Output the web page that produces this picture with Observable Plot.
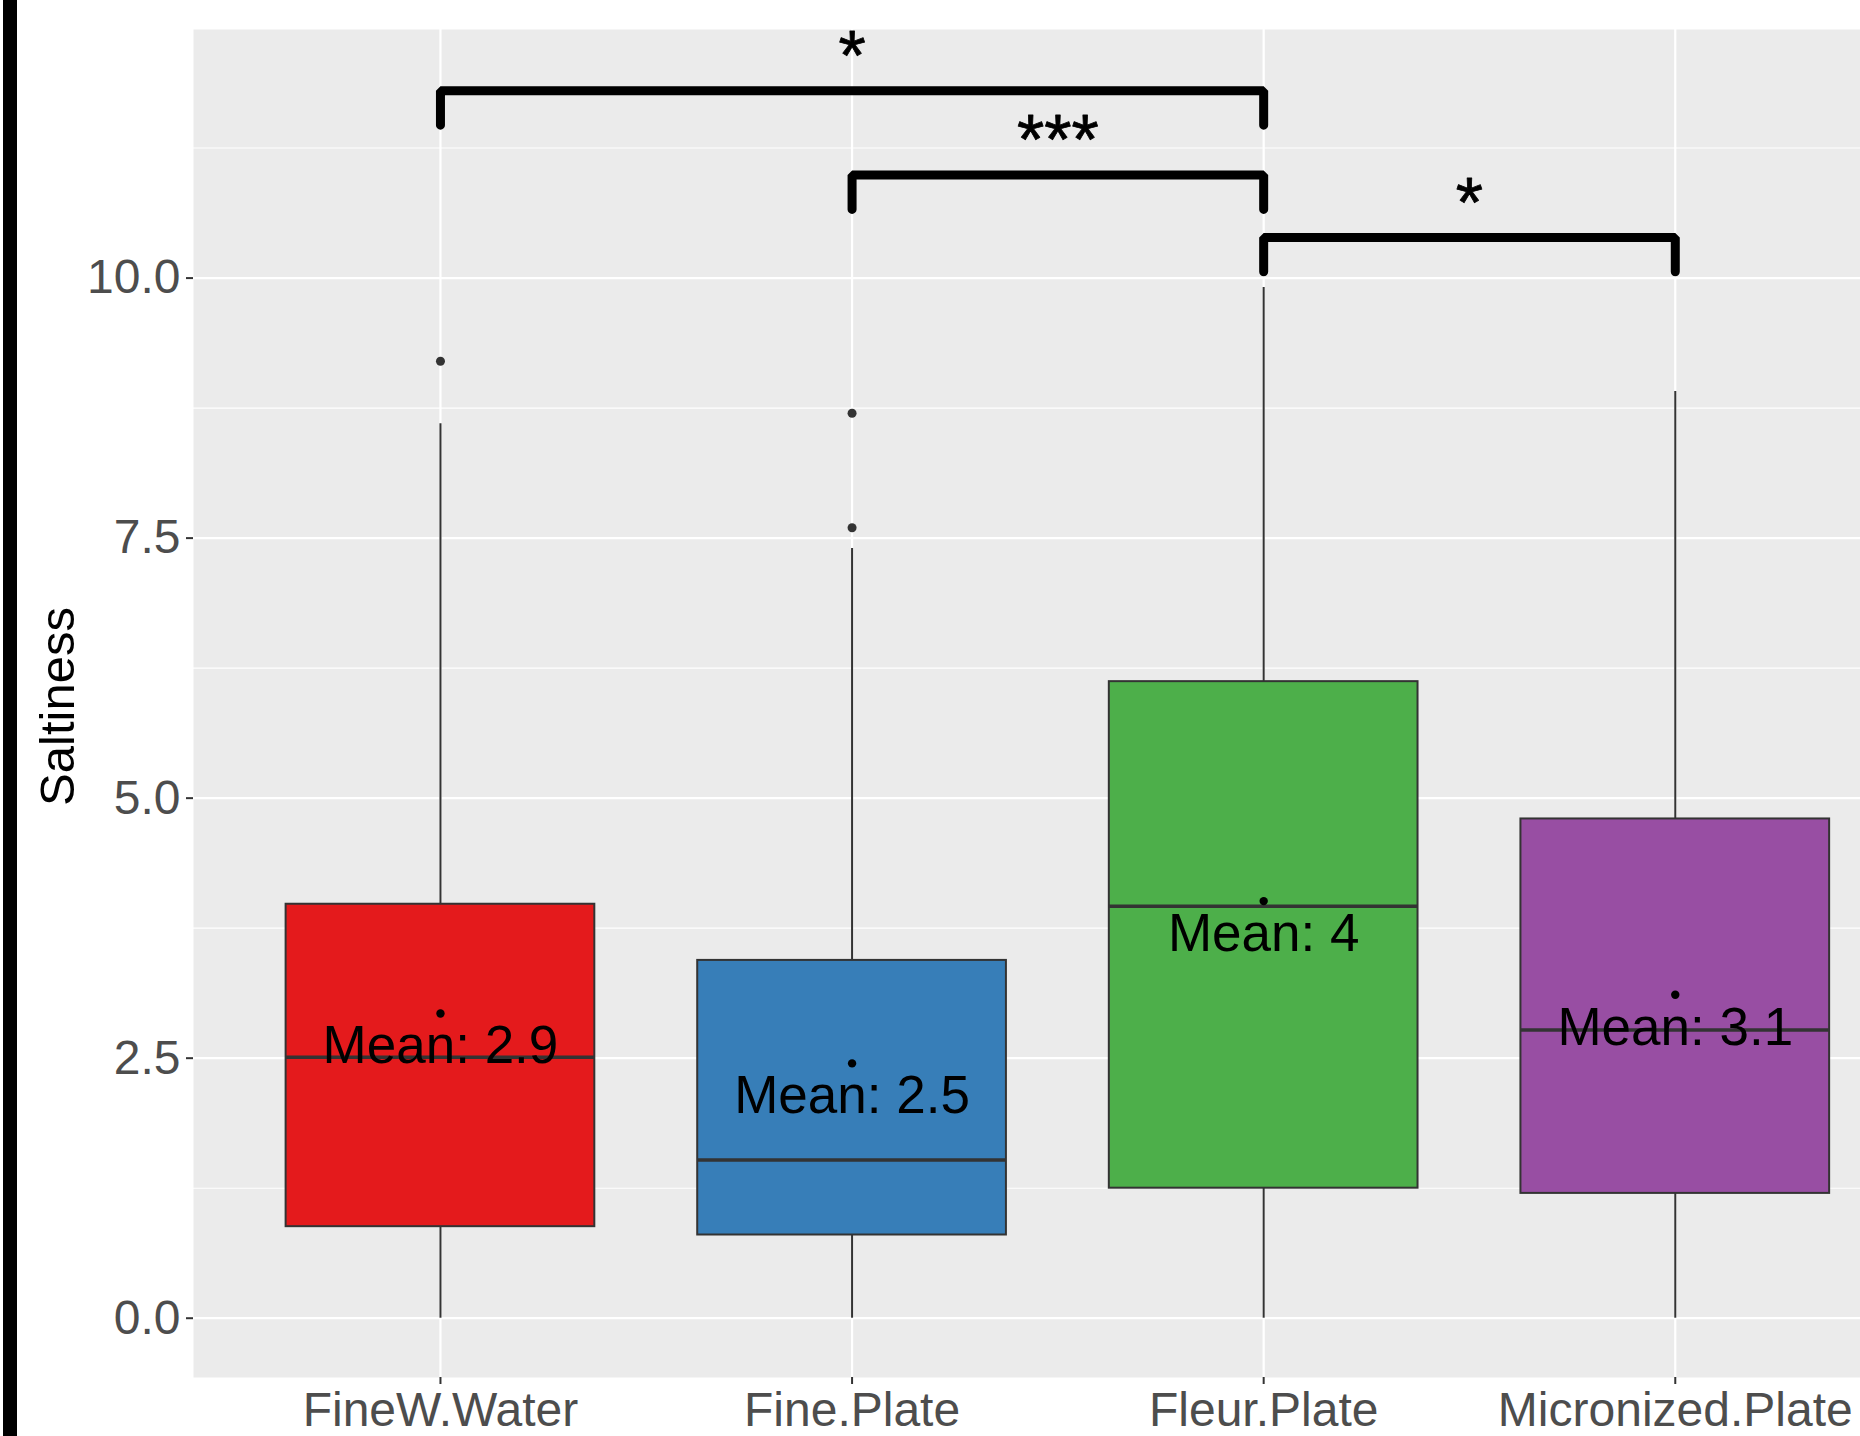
<!DOCTYPE html>
<html>
<head>
<meta charset="utf-8">
<script src="https://cdn.jsdelivr.net/npm/d3@7"></script>
<script src="https://cdn.jsdelivr.net/npm/@observablehq/plot@0.6"></script>
<style>
  html, body { margin: 0; padding: 0; background: #ffffff; }
  #wrap { position: relative; width: 1860px; height: 1436px; overflow: hidden; }
  #edge { position: absolute; left: 3px; top: 0; width: 14px; height: 1436px; background: #000; }
  #chart { position: absolute; left: 0; top: 0; }
</style>
</head>
<body>
<div id="wrap"><div id="chart"></div><div id="edge"></div></div>
<script>
// ---- data ----
const groups = ["FineW.Water", "Fine.Plate", "Fleur.Plate", "Micronized.Plate"];
const groupColors = ["#E41A1C", "#377EB8", "#4DAF4A", "#984EA3"];
const whiskerLow = [0, 0, 0, 0];
const quartile1 = [0.88, 0.80, 1.25, 1.20];
const medians = [2.51, 1.52, 3.96, 2.77];
const quartile3 = [3.98, 3.44, 6.12, 4.80];
const whiskerHigh = [8.60, 7.40, 9.91, 8.91];
const means = [2.93, 2.45, 4.01, 3.11];
const meanLabels = ["2.9", "2.5", "4", "3.1"];
const outlierGroups = ["FineW.Water", "Fine.Plate", "Fine.Plate"];
const outlierValues = [9.20, 8.70, 7.60];
const compFrom = ["FineW.Water", "Fine.Plate", "Fleur.Plate"];
const compTo = ["Fleur.Plate", "Fleur.Plate", "Micronized.Plate"];
const compY = [11.80, 10.99, 10.39];
const compLabels = ["*", "***", "*"];
const yTicks = [0, 2.5, 5, 7.5, 10];
const yMinor = [1.25, 3.75, 6.25, 8.75, 11.25];
const yTitle = "Saltiness";

// ---- derived tables ----
const pos = g => groups.indexOf(g) + 1;
const stats = groups.map((g, i) => ({
  group: g, pos: i + 1, lo: whiskerLow[i], q1: quartile1[i], med: medians[i],
  q3: quartile3[i], hi: whiskerHigh[i], mean: means[i], meanLabel: meanLabels[i]
}));
const outliers = outlierGroups.map((g, i) => ({group: g, pos: pos(g), value: outlierValues[i]}));
const tip = 0.33;
const bracketPts = [];
compFrom.forEach((f, i) => {
  const a = pos(f), b = pos(compTo[i]), y = compY[i];
  bracketPts.push({id: i, x: a, y: y - tip}, {id: i, x: a, y}, {id: i, x: b, y}, {id: i, x: b, y: y - tip});
});
const comps = compFrom.map((f, i) => ({mid: (pos(f) + pos(compTo[i])) / 2, y: compY[i], label: compLabels[i]}));
const boxWidth = 0.75;

const chart = Plot.plot({
  width: 1860,
  height: 1436,
  marginTop: 29,
  marginBottom: 59,
  marginLeft: 193,
  marginRight: 0,
  style: {fontFamily: "'Liberation Sans', Arial, sans-serif", background: "transparent", overflow: "visible"},
  x: {domain: [0.4, 4.45]},
  y: {domain: [-0.570, 12.39]},
  color: {domain: groups, range: groupColors},
  marks: [
    Plot.frame({fill: "#EBEBEB", stroke: null}),
    Plot.gridY(yMinor, {stroke: "#ffffff", strokeOpacity: 1, strokeWidth: 1.1}),
    Plot.gridY(yTicks, {stroke: "#ffffff", strokeOpacity: 1, strokeWidth: 2.2}),
    Plot.gridX([1, 2, 3, 4], {stroke: "#ffffff", strokeOpacity: 1, strokeWidth: 2.2}),
    Plot.ruleX(stats, {x: "pos", y1: "q3", y2: "hi", stroke: "#333333", strokeWidth: 2}),
    Plot.ruleX(stats, {x: "pos", y1: "lo", y2: "q1", stroke: "#333333", strokeWidth: 2}),
    Plot.rect(stats, {x1: d => d.pos - boxWidth / 2, x2: d => d.pos + boxWidth / 2, y1: "q1", y2: "q3",
      fill: "group", stroke: "#333333", strokeWidth: 2}),
    Plot.ruleY(stats, {x1: d => d.pos - boxWidth / 2, x2: d => d.pos + boxWidth / 2, y: "med",
      stroke: "#333333", strokeWidth: 3.5}),
    Plot.dot(outliers, {x: "pos", y: "value", r: 4.5, fill: "#333333", stroke: null}),
    Plot.dot(stats, {x: "pos", y: "mean", r: 4.2, fill: "#000000", stroke: null}),
    Plot.text(stats, {x: "pos", y: "mean", text: d => "Mean: " + d.meanLabel, fontSize: 53,
      fill: "#000000", lineAnchor: "middle", dy: 33}),
    Plot.line(bracketPts, {x: "x", y: "y", z: "id", stroke: "#000000", strokeWidth: 9,
      strokeLinecap: "round", strokeLinejoin: "miter", curve: "linear"}),
    Plot.text(comps, {x: "mid", y: "y", text: "label", fontSize: 70, fill: "#000000",
      stroke: "#000000", strokeWidth: 0.8, lineAnchor: "bottom", dy: -11}),
    Plot.axisY(yTicks, {tickFormat: d3.format(".1f"), tickSize: 7, tickPadding: 6, fontSize: 48,
      stroke: "#333333", strokeWidth: 2, fill: "#4D4D4D", label: null}),
    Plot.axisX([1, 2, 3, 4], {tickFormat: i => groups[i - 1], tickSize: 7, tickPadding: 7, fontSize: 48,
      stroke: "#333333", strokeWidth: 2, fill: "#4D4D4D", label: null}),
    Plot.text([yTitle], {frameAnchor: "left", text: d => d, rotate: -90, fontSize: 49, fill: "#000000",
      textAnchor: "middle", lineAnchor: "bottom", dx: -120, dy: 3})
  ]
});
document.getElementById("chart").appendChild(chart);
</script>
</body>
</html>
